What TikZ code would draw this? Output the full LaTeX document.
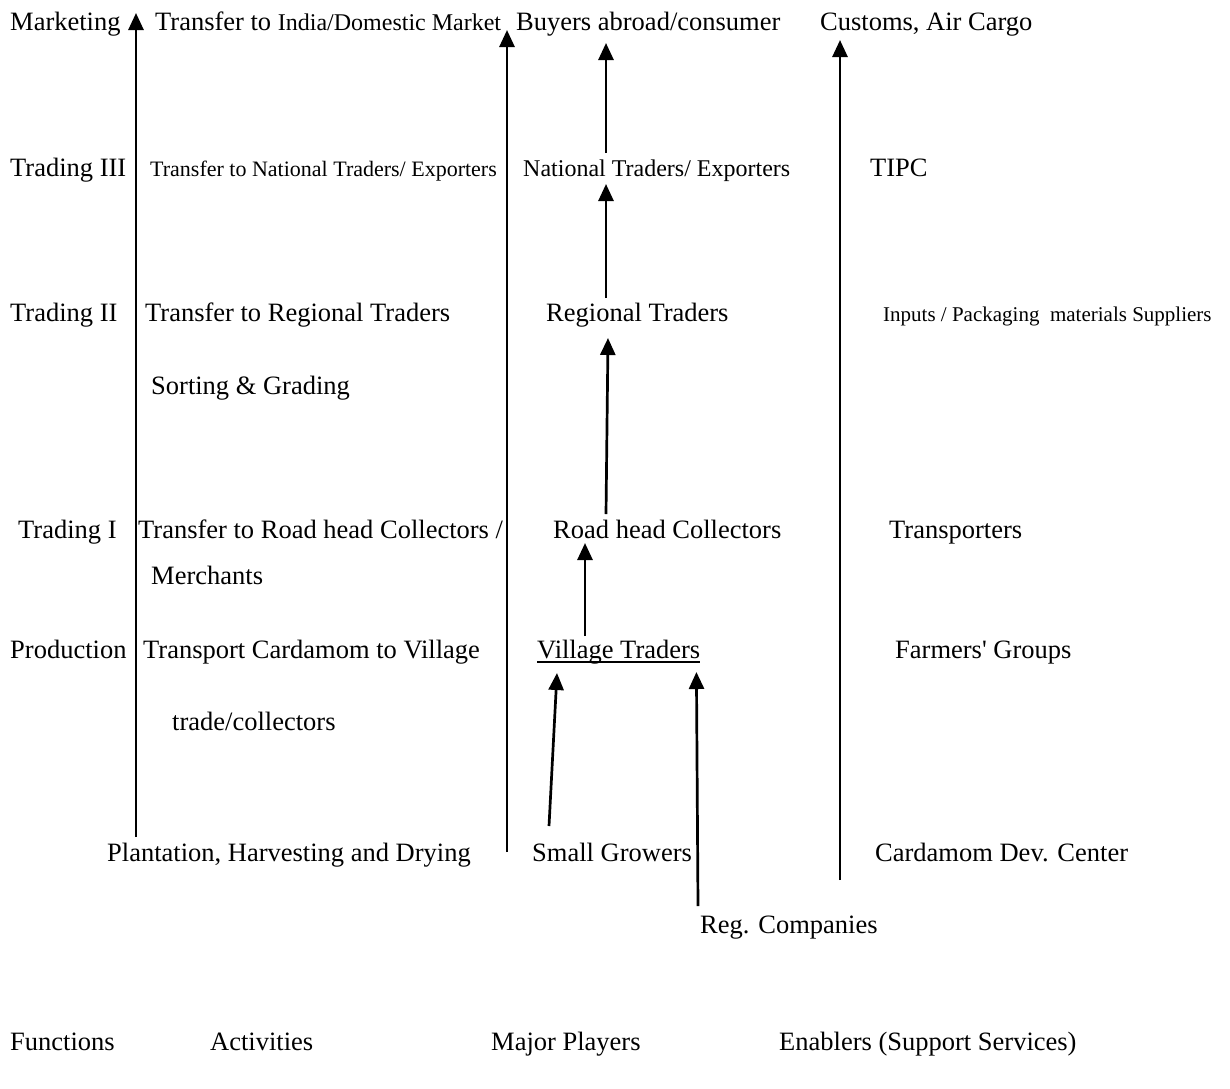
\documentclass[tikz,border=0pt]{standalone}
\usepackage{fontspec}
\setmainfont{Liberation Serif}
\usetikzlibrary{arrows.meta,calc}

\tikzset{
    lbl/.style   = {anchor=base west, inner sep=0pt, font=\fontsize{26.5}{30}\selectfont},
    sml/.style   = {lbl, font=\fontsize{22}{26}\selectfont},
    tiny/.style  = {lbl, font=\fontsize{21}{25}\selectfont},
    flow/.style  = {-{Triangle[width=15pt,length=17pt]}, line width=2.7pt},
}

\begin{document}
\begin{tikzpicture}[x=1pt, y=-1pt]
    \useasboundingbox (0,0) rectangle (1230,1088);
    % functions
    \node [lbl] (mkt)   at (10,30)   {Marketing};
    \node [lbl] (tr3)   at (10,176)  {Trading III};
    \node [lbl] (tr2)   at (10,321)  {Trading II};
    \node [lbl] (tr1)   at (18,538)  {Trading I};
    \node [lbl] (prod)  at (10,658)  {Production};
    % activities
    \node [lbl] (actm)  at (155,30)  {Transfer to {\fontsize{24}{28}\selectfont India/Domestic Market}};
    \node [sml] (act3)  at (150,176) {Transfer to National Traders/ Exporters};
    \node [lbl] (act2)  at (145,321) {Transfer to Regional Traders};
    \node [lbl] (sort)  at (151,394) {Sorting \& Grading};
    \node [lbl] (act1)  at (138,538) {Transfer to Road head Collectors /};
    \node [lbl] (merch) at (151,584) {Merchants};
    \node [lbl] (actp)  at (143,658) {Transport Cardamom to Village};
    \node [lbl] (coll)  at (172,730) {trade/collectors};
    \node [lbl] (plant) at (107,861) {Plantation, Harvesting and Drying};
    % major players
    \node [lbl] (buy)   at (516,30)  {Buyers abroad/consumer};
    \node [lbl, font=\fontsize{24}{28}\selectfont] (natl) at (523,176) {National Traders/ Exporters};
    \node [lbl] (reg)   at (546,321) {Regional Traders};
    \node [lbl] (road)  at (553,538) {Road head Collectors};
    \node [lbl] (vill)  at (537,658) {Village Traders};
    \node [lbl] (grow)  at (532,861) {Small Growers};
    \node [lbl] (comp)  at (700,933) {Reg. Companies};
    % enablers
    \node [lbl] (cust)  at (820,30)  {Customs, Air Cargo};
    \node [lbl] (tipc)  at (870,176) {TIPC};
    \node [tiny] (supp) at (883,321) {Inputs / Packaging~ materials Suppliers};
    \node [lbl] (trans) at (889,538) {Transporters};
    \node [lbl] (farm)  at (895,658) {Farmers\textquotesingle{} Groups};
    \node [lbl] (cdc)   at (875,861) {Cardamom Dev. Center};
    % column heads
    \node [lbl] (hfun)  at (10,1050)  {Functions};
    \node [lbl] (hact)  at (210,1050) {Activities};
    \node [lbl] (hmaj)  at (491,1050) {Major Players};
    \node [lbl] (hena)  at (779,1050) {Enablers (Support Services)};

    \draw [line width=1.3pt] ($(vill.base west)+(0,4)$) -- ($(vill.base east)+(0,4)$);

    % long lines
    \coordinate (fbot) at (136,837);
    \coordinate (ftop) at (136,13);
    \coordinate (abot) at (507,852);
    \coordinate (atop) at (507,30);
    \coordinate (ebot) at (840,880);
    \coordinate (etop) at (840,40);
    \draw [flow] (fbot) -- (ftop);
    \draw [flow] (abot) -- (atop);
    \draw [flow] (ebot) -- (etop);

    % players
    \draw [flow] ($(natl.base west)+(83,-23)$) -- ($(buy.base west)+(90,13)$);
    \draw [flow] ($(reg.base west)+(60,-23)$)  -- ($(natl.base west)+(83,8)$);
    \draw [flow] ($(road.base west)+(53,-24)$) -- ($(reg.base west)+(62,17)$);
    \draw [flow] ($(vill.base west)+(48,-22)$) -- ($(road.base west)+(32,5)$);
    \draw [flow] ($(grow.base west)+(17,-35)$) -- ($(vill.base west)+(20,15)$);
    \draw [flow] ($(comp.base west)+(-2,-27)$) -- ($(vill.base east)+(-4,14)$);
\end{tikzpicture}
\end{document}
